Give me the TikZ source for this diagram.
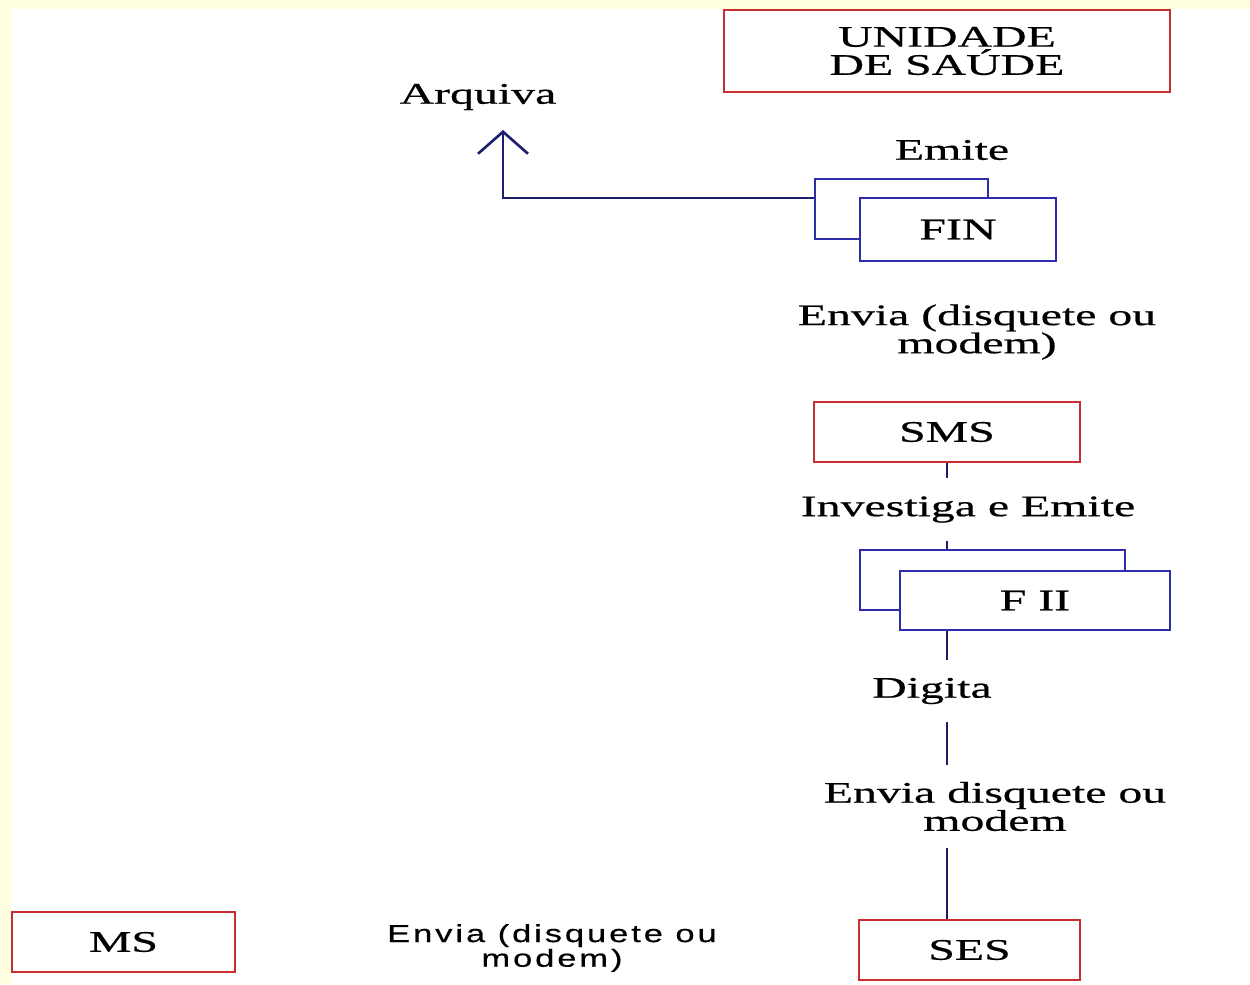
\documentclass[tikz,border=0pt]{standalone}
\usepackage{fontspec}
\setmainfont{Liberation Serif}[FakeStretch=1.6,FakeBold=0.6]
\newfontfamily\labelsans{Liberation Sans}[FakeStretch=1.4,LetterSpace=12,FakeBold=0.5]
\usetikzlibrary{arrows.meta}
\definecolor{entityred}{RGB}{200,45,50}
\definecolor{docblue}{RGB}{45,45,170}
\definecolor{linknavy}{RGB}{30,30,110}
\definecolor{pageyellow}{RGB}{255,255,224}
\newcommand{\serifbig}{\fontsize{17}{16}\selectfont}
\newcommand{\sansmid}{\labelsans\fontsize{14}{13}\selectfont}

\begin{document}
\begin{tikzpicture}[x=0.02cm,y=-0.02cm]

%
% Styles
%
\tikzstyle{entity} = [draw=entityred,line width=1.6pt,fill=white,font=\serifbig,inner sep=0pt]
\tikzstyle{doc}    = [draw=docblue,line width=1.6pt,fill=white,font=\serifbig,inner sep=0pt]
\tikzstyle{action} = [font=\serifbig,align=center,inner sep=0pt]
\tikzstyle{link}   = [draw=linknavy,line width=1.5pt]
\tikzstyle{arrow}  = [link,-{Straight Barb[length=4.4mm,width=10mm]}]

% page
\useasboundingbox (0,0) rectangle (1250,984);
\fill[pageyellow] (0,0) rectangle (1250,984);
\fill[white] (11,9) rectangle (1250,984);

\node[entity,minimum width=89.2mm,minimum height=16.4mm,align=center] (saude) at (947,51) {UNIDADE\\DE SAÚDE};
\node[action] (arquiva) at (478,97) {Arquiva};
\node[action] (emite) at (952,150) {Emite};

\node[doc,minimum width=34.6mm,minimum height=12mm] (finback) at (901.5,209) {};
\node[doc,minimum width=39.2mm,minimum height=12.6mm] (finfront) at (958,229.5) {FIN};

\node[action] (envia1) at (977,332) {Envia (disquete ou\\modem)};
\node[entity,minimum width=53.2mm,minimum height=12mm] (sms) at (947,432) {SMS};
\node[action,minimum height=12.6mm] (investiga) at (968,509.5) {Investiga e Emite};

\node[doc,minimum width=53mm,minimum height=12mm] (fiiback) at (992.5,580) {};
\node[doc,minimum width=54mm,minimum height=11.8mm] (fiifront) at (1035,600.5) {F II};

\node[action,minimum height=12.4mm] (digita) at (932,691) {Digita};
\node[action,minimum height=16.6mm] (envia2) at (995,806.5) {Envia disquete ou\\modem};
\node[entity,minimum width=44.2mm,minimum height=12mm] (ses) at (969.5,950) {SES};

\node[entity,minimum width=44.6mm,minimum height=12mm] (ms) at (123.5,942) {MS};
\node[action,font=\sansmid] (envia3) at (552,948) {Envia (disquete ou\\modem)};

\coordinate (bend) at (503,198);
\coordinate (tip) at (503,130);
\draw[arrow] (bend -| finback.west) -- (bend) -- (tip);

\draw[link] (sms.south) -- (sms.south |- investiga.north);
\draw[link] (sms.south |- investiga.south) -- (sms.south |- fiiback.north);
\draw[link] (sms.south |- fiifront.south) -- (sms.south |- digita.north);
\draw[link] (sms.south |- digita.south) -- (sms.south |- envia2.north);
\draw[link] (sms.south |- envia2.south) -- (sms.south |- ses.north);

\end{tikzpicture}
\end{document}
